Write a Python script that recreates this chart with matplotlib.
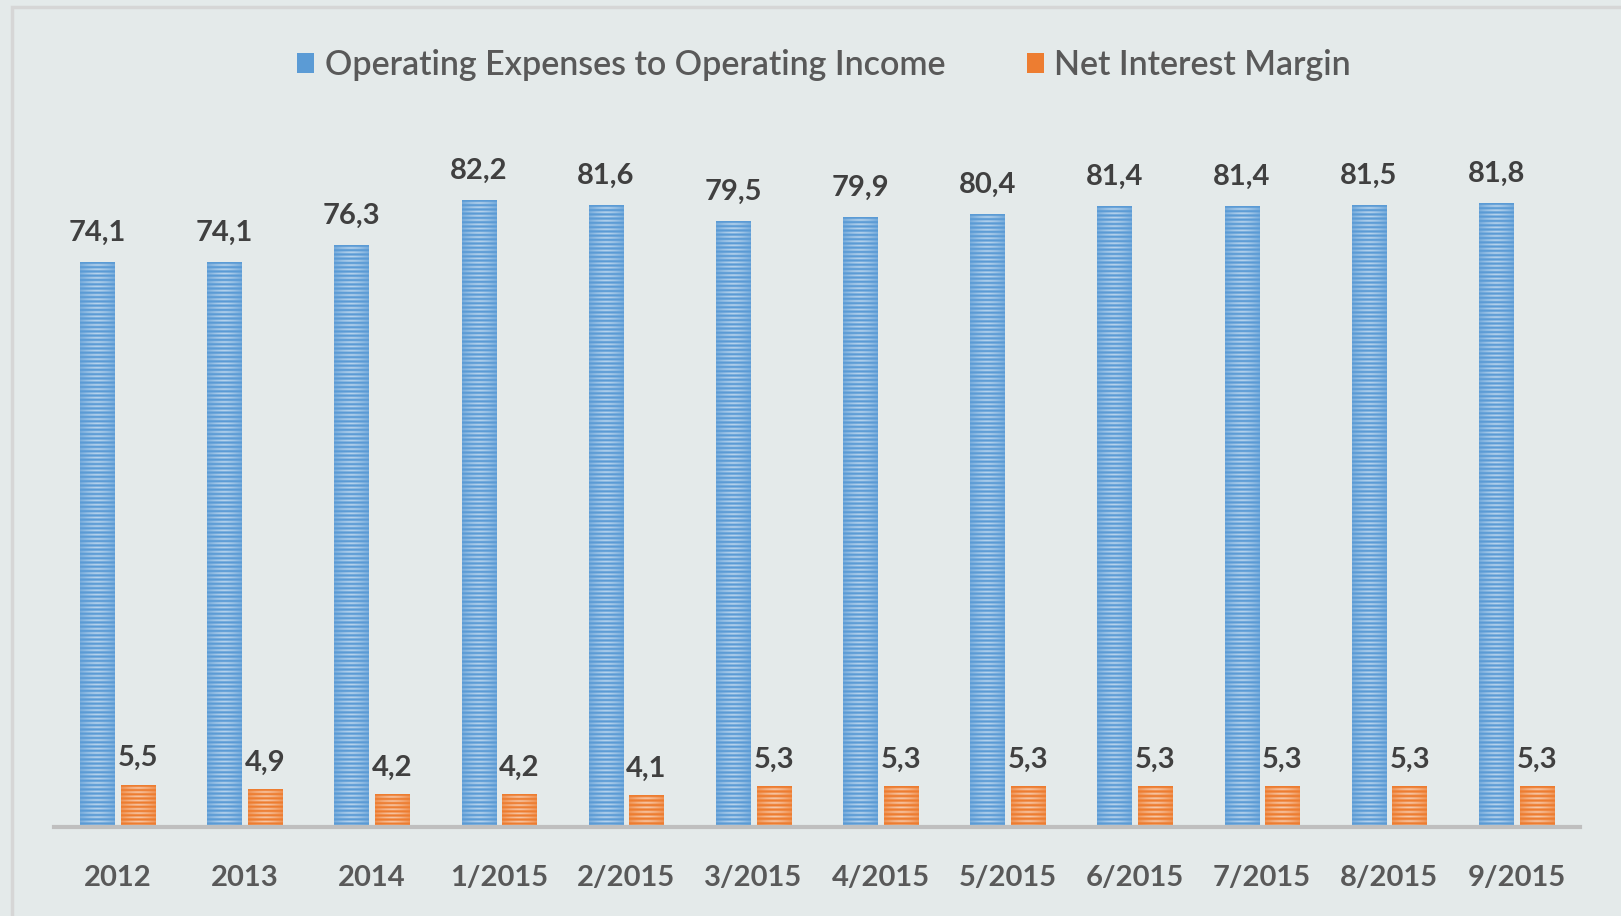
import numpy as np
import matplotlib.pyplot as plt
from matplotlib.patches import Rectangle
from matplotlib.colors import to_rgb

categories = ['2012', '2013', '2014', '1/2015', '2/2015', '3/2015', '4/2015',
              '5/2015', '6/2015', '7/2015', '8/2015', '9/2015']
opex_ratio = [74.1, 74.1, 76.3, 82.2, 81.6, 79.5, 79.9, 80.4, 81.4, 81.4, 81.5, 81.8]
net_margin = [5.5, 4.9, 4.2, 4.2, 4.1, 5.3, 5.3, 5.3, 5.3, 5.3, 5.3, 5.3]
series_names = ['Operating Expenses to Operating Income', 'Net Interest Margin']

BG = '#e4eaea'
BLUE = '#5b9bd5'
ORANGE = '#ed7d31'
TXT = '#595959'

plt.rcParams['font.family'] = ['Lato', 'DejaVu Sans']

fig = plt.figure(figsize=(16.21, 9.16), dpi=100, facecolor=BG)
# outer frame lines (top and left)
fig.patches.append(Rectangle((11.5 / 1621, -0.1), 2.0, 1.1 - 6.5 / 916, transform=fig.transFigure,
                             facecolor='none', edgecolor='#d6d6d6', linewidth=2.5))

ax = fig.add_axes([54 / 1621, 89 / 916, 1526 / 1621, 686 / 916])
ax.set_facecolor(BG)

x = np.arange(len(categories))
w = 0.27
b1 = ax.bar(x - 0.16, opex_ratio, w, color=BLUE, label=series_names[0], zorder=2)
b2 = ax.bar(x + 0.16, net_margin, w, color=ORANGE, label=series_names[1], zorder=2)


def stripe(patch, color, period=0.56):
    # horizontal stripes with a lighter centre, like the office gradient fill
    x0, y0 = patch.get_x(), patch.get_y()
    bw, bh = patch.get_width(), patch.get_height()
    n = max(int(round(bh / period)), 1)
    base = np.array(to_rgb(color))
    row_light = np.tile([0.0, 0.0, 0.35, 0.7, 0.35], n)[:, None]
    xs = np.linspace(-1, 1, 40)
    centre = 1 - np.abs(xs) ** 1.5
    a = row_light * (0.3 + 0.6 * centre)[None, :]
    img = base[None, None, :] * (1 - a[..., None]) + a[..., None]
    ax.imshow(img, extent=(x0, x0 + bw, y0, y0 + bh), aspect='auto',
              interpolation='bilinear', zorder=3)


for p in b1:
    stripe(p, BLUE)
for p in b2:
    stripe(p, ORANGE)

for xi, v in zip(x, opex_ratio):
    ax.annotate(f'{v:.1f}'.replace('.', ','), (xi - 0.16, v), xytext=(0, 12),
                textcoords='offset points', ha='center', va='bottom',
                fontsize=21, color='#404040', fontweight='bold')
for xi, v in zip(x, net_margin):
    ax.annotate(f'{v:.1f}'.replace('.', ','), (xi + 0.16, v), xytext=(0, 10),
                textcoords='offset points', ha='center', va='bottom',
                fontsize=21, color='#404040', fontweight='bold')

ax.set_xlim(-0.5, 11.5)
ax.set_ylim(0, 90)
ax.set_xticks(x)
ax.set_xticklabels(categories, fontsize=21, color=TXT, fontweight='bold')
ax.tick_params(axis='x', length=0, pad=27)
ax.set_yticks([])
for s in ['top', 'right', 'left']:
    ax.spines[s].set_visible(False)
ax.spines['bottom'].set_color('#bfbfbf')
ax.spines['bottom'].set_linewidth(3)
ax.spines['bottom'].set_zorder(4)

leg = fig.legend(handles=[b1, b2], loc='center', bbox_to_anchor=(824 / 1621, 1 - 65 / 916),
                 ncol=2, frameon=False, prop={'size': 24.5, 'weight': 'semibold'},
                 handlelength=0.5, handleheight=0.5,
                 handletextpad=0.3, columnspacing=2.4)
for t in leg.get_texts():
    t.set_color(TXT)

plt.savefig('out.png', dpi=100, facecolor=BG)
